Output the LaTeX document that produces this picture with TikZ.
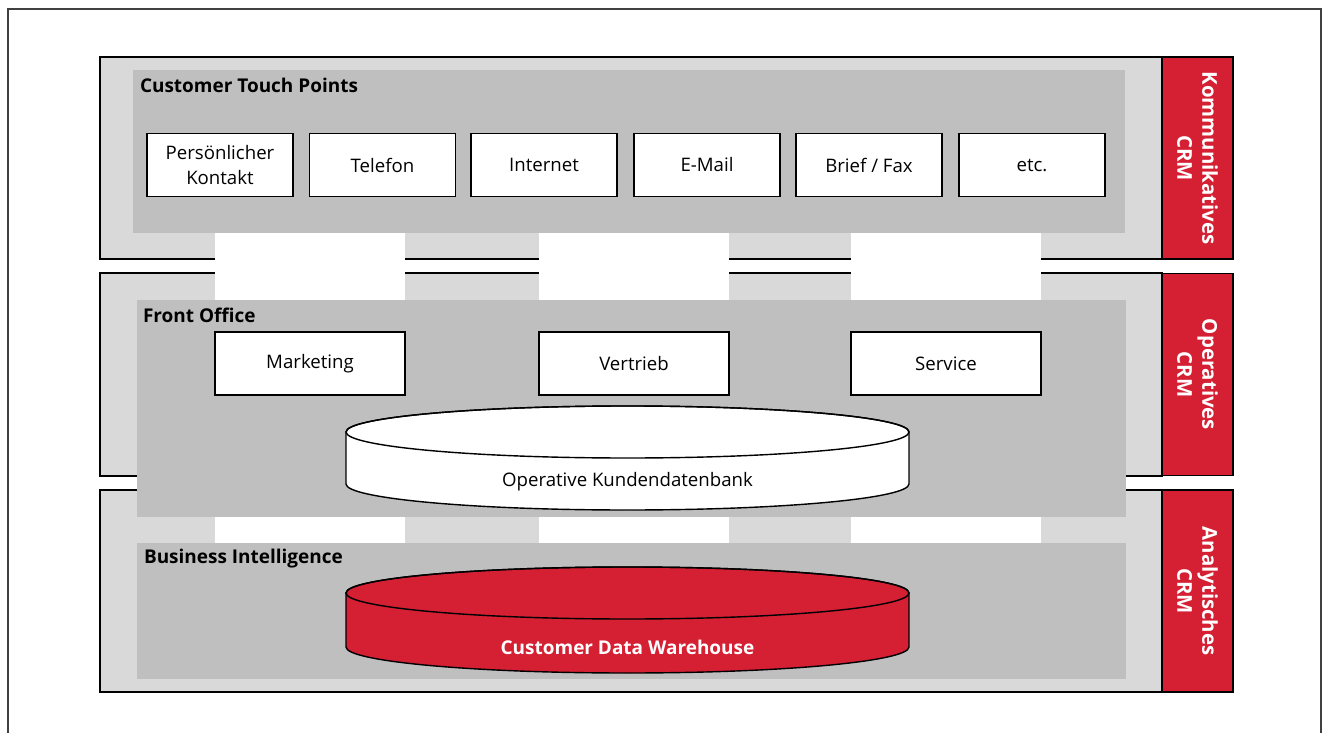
\documentclass[tikz,border=0pt]{standalone}
\usepackage{fontspec}
\setmainfont{Open Sans}
\usepackage{xcolor}
\usepackage{tikz}

\definecolor{crmred}{RGB}{213,31,51}
\definecolor{layergray}{RGB}{217,217,217}
\definecolor{areagray}{RGB}{191,191,191}

\begin{document}
\begin{tikzpicture}[x=0.02cm,y=-0.02cm,
	every node/.style={font=\fontsize{10.6}{13.8}\selectfont, inner sep=0pt, outer sep=0pt},
	layer/.style={draw=black, line width=0.8pt, fill=layergray},
	area/.style={fill=areagray},
	areatitle/.style={anchor=west, font=\fontsize{10.8}{13.8}\selectfont\bfseries},
	tpbox/.style={draw, line width=0.8pt, fill=white, align=center, minimum width=2.92cm, minimum height=1.26cm},
	fobox/.style={tpbox, minimum width=3.8cm},
	crmtag/.style={draw, line width=0.8pt, fill=crmred, text=white, align=center, rotate=-90,
		font=\fontsize{11.6}{14.2}\selectfont\bfseries, minimum width=4.04cm, minimum height=1.42cm},
	link/.style={fill=white},
	dbline/.style={line width=0.8pt}
]
\useasboundingbox (0,0) rectangle (1325,733);
\draw[black!75, line width=0.6pt] (8,733) -- (8,9) -- (1321,9) -- (1321,733);
%
\draw[layer] (100,57) rectangle (1162,259);
\draw[layer] (100,273) rectangle (1162,476);
\draw[layer] (100,490) rectangle (1162,692);
%
\node[crmtag] (kom) at (1197.5,158) {Kommunikatives\\CRM};
\node[crmtag] (ope) at (1197.5,374.5) {Operatives\\CRM};
\node[crmtag] (ana) at (1197.5,591) {Analytisches\\CRM};
%
\node[area, minimum width=19.84cm, minimum height=3.26cm] (ctp) at (629,151.5) {};
\node[area, minimum width=19.78cm, minimum height=4.34cm] (fo) at (631.5,408.5) {};
\node[area, minimum width=19.78cm, minimum height=2.72cm] (bi) at (631.5,611) {};
\node[areatitle] (ctptitle) at (140,85) {Customer Touch Points};
\node[areatitle] (fotitle) at (143,315) {Front Office};
\node[areatitle] (bititle) at (144,559) {Business Intelligence};
%
\node[tpbox] (pers) at (220,165) {Persönlicher\\Kontakt};
\node[tpbox] (tel) at (382.5,165) {Telefon};
\node[tpbox] (web) at (544,165) {Internet};
\node[tpbox] (mail) at (707,165) {E-Mail};
\node[tpbox] (fax) at (869,165) {Brief / Fax};
\node[tpbox] (etc) at (1032,165) {etc.};
%
\node[fobox] (mkt) at (310,363.5) {Marketing};
\node[fobox] (vtr) at (634,363.5) {Vertrieb};
\node[fobox] (srv) at (946,363.5) {Service};
%
\foreach \b in {mkt,vtr,srv}{
	\fill[link] (\b.west |- ctp.south) rectangle (\b.east |- fo.north);
	\fill[link] (\b.west |- fo.south) rectangle (\b.east |- bi.north);
}
%
\filldraw[dbline, fill=white] (346,432) -- (346,484) arc (180:0:281.5 and 26)
	-- (909,432) arc (0:-180:281.5 and 26) -- cycle;
\draw[dbline] (627.5,432) ellipse (281.5 and 26);
\node (okdb) at (627.5,482) {Operative Kundendatenbank};
%
\filldraw[dbline, fill=crmred] (346,593) -- (346,647) arc (180:0:281.5 and 26)
	-- (909,593) arc (0:-180:281.5 and 26) -- cycle;
\draw[dbline] (627.5,593) ellipse (281.5 and 26);
\node[text=white, font=\fontsize{10.8}{13.8}\selectfont\bfseries] (cdwh) at (627.5,647) {Customer Data Warehouse};
\end{tikzpicture}
\end{document}
